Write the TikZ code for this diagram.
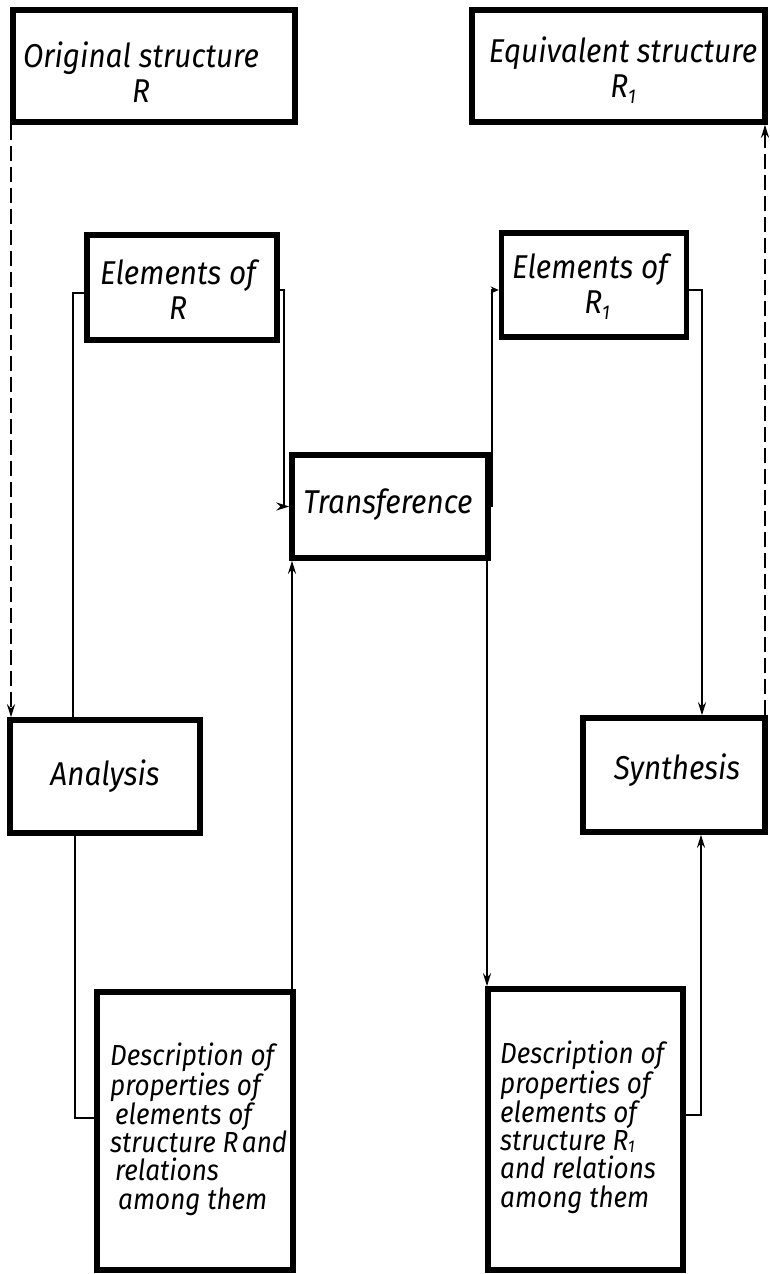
\documentclass[tikz,border=0pt]{standalone}
\usepackage{fontspec}
\setmainfont[FakeStretch=0.9]{Fira Sans}
\usetikzlibrary{arrows.meta,calc}
\newcommand\lowsub[1]{\raisebox{-0.35ex}{\fontsize{20}{20}\selectfont #1}}
\newcommand\lowsubd[1]{\raisebox{-0.15ex}{\fontsize{17}{17}\selectfont #1}}
\begin{document}
\begin{tikzpicture}[x=1pt,y=-1pt,
  box/.style={draw, line width=5.5pt, inner sep=0pt},
  lbl/.style={font=\itshape\fontsize{33}{35}\selectfont, align=center, inner sep=0pt},
  desc/.style={font=\itshape\fontsize{29}{28.4}\selectfont, align=left, inner sep=0pt, anchor=north west},
  conn/.style={line width=1.9pt},
  arr/.style={conn, -{Stealth[length=13pt,width=8pt]}},
  sarr/.style={conn, -{Stealth[length=8pt,width=7pt]}},
  dsh/.style={line width=2.8pt, dash pattern=on 15pt off 6pt, -{Stealth[length=13pt,width=8pt]}}
]
\useasboundingbox (0,0) rectangle (770,1274);

% boxes
\node[box, minimum width=282pt, minimum height=112pt] (orig)  at (154,66) {};
\node[box, minimum width=293pt, minimum height=112pt] (equiv) at (618.5,66) {};
\node[box, minimum width=190pt, minimum height=105pt] (elR)   at (182,287.5) {};
\node[box, minimum width=185pt, minimum height=104pt] (elRone) at (594,285) {};
\node[box, minimum width=196pt, minimum height=103pt] (trans) at (390,506.5) {};
\node[box, minimum width=190pt, minimum height=113pt] (analysis) at (105,776.5) {};
\node[box, minimum width=182pt, minimum height=114pt] (synth) at (674,775) {};
\node[box, minimum width=196pt, minimum height=278pt] (descR) at (195,1131) {};
\node[box, minimum width=195pt, minimum height=281pt] (descRone) at (585.5,1129.5) {};

% labels
\node[lbl] (torig)  at (141,72)  {Original structure\\R};
\node[lbl] (tequiv) at (623,70)  {Equivalent structure\\R\lowsub{1}};
\node[lbl] (telR)   at (178,290) {Elements of\\R};
\node[lbl] (telRone) at (590,287) {Elements of\\\hspace*{14pt}R\lowsub{1}};
\node[lbl] (ttrans) at (388,505) {Transference};
\node[lbl] (tana)   at (105,776) {Analysis};
\node[lbl] (tsyn)   at (677,770) {Synthesis};
\node[desc] (tdescR) at (110,1043) {Description of\\properties of\\\hspace*{5pt}elements of\\structure R\hspace{-3pt} and\\\hspace*{5pt}relations\\\hspace*{8pt}among them};
\node[desc] (tdescRone) at (500,1041) {Description of\\properties of\\elements of\\structure R\lowsubd{1}\\and relations\\among them};

% helper coordinates
\coordinate (ya) at (73,293);
\coordinate (yb) at (284,290);
\coordinate (yc) at (492,290);
\coordinate (yd) at (702,290);
\coordinate (ye) at (75,1118);
\coordinate (yf) at (292,0);
\coordinate (yg) at (487,0);
\coordinate (yh) at (701,1115);
\coordinate (xl) at (11,0);
\coordinate (xr) at (765,0);

% dashed connectors
\draw[dsh] (orig.south -| xl) -- (xl |- analysis.north);
\draw[dsh] (synth.north -| xr) -- (xr |- equiv.south);

% solid connectors
\draw[conn] (analysis.north -| ya) -- (ya) -- (elR.west |- ya);
\draw[arr] (elR.east |- yb) -- (yb) -- (yb |- trans.west) -- (trans.west);
\draw[sarr] (trans.east) -- (trans.east -| yc) -- (yc) -- (elRone.west |- yc);
\draw[arr] (elRone.east |- yd) -- (yd) -- (yd |- synth.north);
\draw[conn] (analysis.south -| ye) -- (ye) -- (descR.west |- ye);
\draw[arr] (descR.north -| yf) -- (yf |- trans.south);
\draw[arr] (trans.south -| yg) -- (yg |- descRone.north);
\draw[arr] (descRone.east |- yh) -- (yh) -- (yh |- synth.south);
\end{tikzpicture}
\end{document}
